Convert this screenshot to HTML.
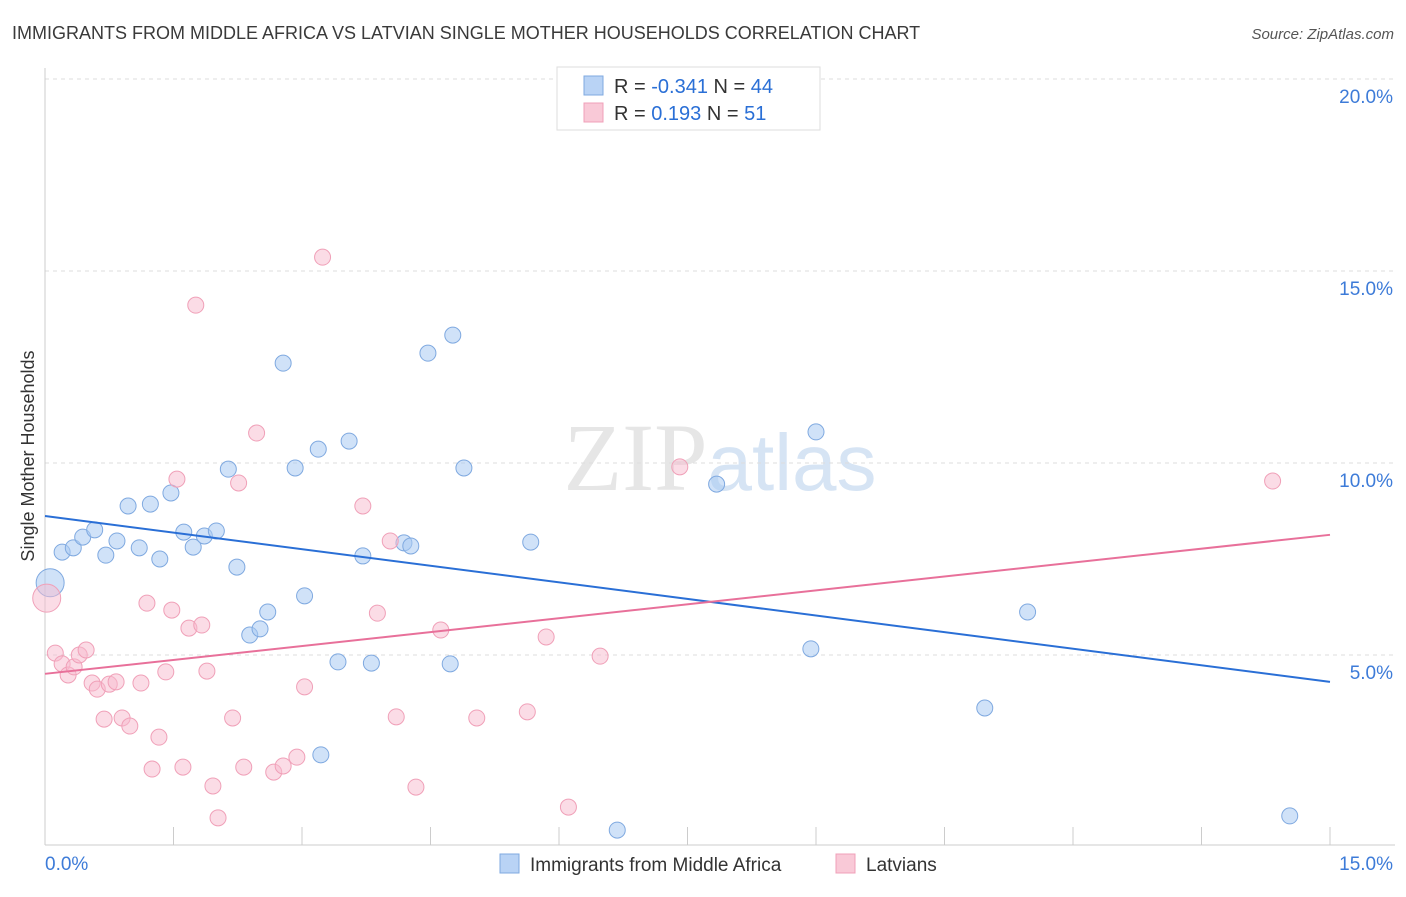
<!DOCTYPE html>
<html><head><meta charset="utf-8"><style>
body{margin:0;background:#fff;font-family:"Liberation Sans",sans-serif;}
</style></head><body>
<svg width="1406" height="892" xmlns="http://www.w3.org/2000/svg" font-family="Liberation Sans, sans-serif">
<text x="12" y="39" font-size="18" fill="#3a3a3a">IMMIGRANTS FROM MIDDLE AFRICA VS LATVIAN SINGLE MOTHER HOUSEHOLDS CORRELATION CHART</text>
<text x="1394" y="39" font-size="15" fill="#555" text-anchor="end" font-style="italic">Source: ZipAtlas.com</text>
<text x="720" y="490" font-size="96" fill="#e6e6e6" text-anchor="middle" font-family="Liberation Serif, serif">ZIP<tspan fill="#d6e4f4" font-family="Liberation Sans, sans-serif" font-size="80">atlas</tspan></text>
<g id="grid"></g>
<g id="axes"></g>
<g id="marks"></g>
<text transform="translate(34,456) rotate(-90)" font-size="18" fill="#333" text-anchor="middle">Single Mother Households</text>
<g>
<rect x="557" y="67" width="263" height="63" fill="#fff" stroke="#ddd"/>
<rect x="584" y="76" width="19" height="19" fill="#b9d3f5" stroke="#7fa9e0"/>
<rect x="584" y="103" width="19" height="19" fill="#f9c9d7" stroke="#f0a0b8"/>
<text x="614" y="93" font-size="20" fill="#333">R = <tspan fill="#2a6fd6">-0.341</tspan>   N = <tspan fill="#2a6fd6">44</tspan></text>
<text x="614" y="120" font-size="20" fill="#333">R =   <tspan fill="#2a6fd6">0.193</tspan>   N =  <tspan fill="#2a6fd6">51</tspan></text>
</g>
<g>
<rect x="500" y="854" width="19" height="19" fill="#b9d3f5" stroke="#7fa9e0"/>
<text x="530" y="871" font-size="19" fill="#333">Immigrants from Middle Africa</text>
<rect x="836" y="854" width="19" height="19" fill="#f9c9d7" stroke="#f0a0b8"/>
<text x="866" y="871" font-size="19" fill="#333">Latvians</text>
</g>
</svg>
<script>
const blueX=[0.06,0.20,0.33,0.44,0.58,0.71,0.84,0.97,1.10,1.23,1.34,1.47,1.62,1.73,1.86,2.00,2.14,2.24,2.39,2.51,2.60,2.78,2.92,3.03,3.19,3.22,3.42,3.55,3.71,3.81,4.19,4.27,4.47,4.73,4.76,4.89,5.67,6.68,7.84,8.94,9.00,10.97,11.47,14.53];
const blueY=[6.88,7.68,7.79,8.07,8.26,7.60,7.97,8.88,7.79,8.93,7.50,9.22,8.20,7.81,8.10,8.23,9.84,7.29,5.52,5.68,6.12,12.60,9.87,6.54,10.36,2.40,4.82,10.57,7.58,4.79,7.92,7.84,12.86,4.77,13.33,9.87,7.94,0.44,9.45,5.16,10.81,3.62,6.12,0.81];
const pinkX=[0.02,0.12,0.20,0.27,0.34,0.40,0.48,0.55,0.61,0.69,0.75,0.83,0.90,0.99,1.12,1.19,1.25,1.33,1.41,1.48,1.54,1.61,1.68,1.76,1.83,1.89,1.96,2.02,2.19,2.26,2.32,2.47,2.67,2.78,2.94,3.03,3.24,3.71,3.88,4.03,4.10,4.33,4.62,5.04,5.63,5.85,6.11,6.48,7.41,14.33];
const pinkY=[6.48,5.05,4.77,4.48,4.69,5.00,5.13,4.27,4.11,3.33,4.24,4.30,3.36,3.15,4.27,6.35,2.03,2.86,4.56,6.17,9.58,2.08,5.70,14.11,5.78,4.58,1.59,0.76,3.36,9.48,2.08,10.78,1.95,2.11,2.34,4.17,15.36,8.88,6.09,7.97,3.39,1.56,5.65,3.36,3.52,5.47,1.04,4.97,9.90,9.53];
const blueTrend=[8.62,4.30];
const pinkTrend=[4.51,8.13];
const yTicks=[5,10,15,20];
const yTickLabels=["5.0%","10.0%","15.0%","20.0%"];
const xTickLabels=["0.0%","15.0%"];
const NS="http://www.w3.org/2000/svg";
const X=v=>45+v/15*1285, Y=v=>847-v*38.4;
function mk(p,t,a){const e=document.createElementNS(NS,t);for(const k in a)e.setAttribute(k,a[k]);document.getElementById(p).appendChild(e);return e;}
yTicks.forEach((t,i)=>{
 const g=mk('grid','line',{x1:45,x2:1395,y1:Y(t),y2:Y(t),stroke:'#ddd','stroke-dasharray':'4,4'});
 
 
 const l=mk('grid','text',{x:1393,y:Y(t)+24,'font-size':19,fill:'#3d7bd8','text-anchor':'end'});
 l.textContent=yTickLabels[i];
 
 
});
const ax=mk('axes','line',{x1:45,x2:45,y1:68,y2:845,stroke:'#ccc'});


const bx=mk('axes','line',{x1:45,x2:1395,y1:845,y2:845,stroke:'#ccc'});


for(let i=0;i<=10;i++){const t=mk('axes','line',{x1:X(i*1.5),x2:X(i*1.5),y1:827,y2:845,stroke:'#ccc'});
 
 }
[[0,45,'start'],[1,1393,'end']].forEach(([i,x,a])=>{const l=mk('axes','text',{x:x,y:870,'font-size':19,fill:'#3d7bd8','text-anchor':a});l.textContent=xTickLabels[i];
 
 });
function pts(xs,ys,fill,stroke,name){xs.forEach((v,i)=>{const c=mk('marks','circle',{cx:X(v),cy:Y(ys[i]),r:i==0?14:8,fill:fill,stroke:stroke,'stroke-width':1});
 
 });}
pts(blueX,blueY,'rgba(170,202,242,0.55)','#7fa9e0','blue-point');
pts(pinkX,pinkY,'rgba(248,185,205,0.5)','#f0a0b8','pink-point');
const bl=mk('marks','line',{x1:X(0),y1:Y(blueTrend[0]),x2:X(15),y2:Y(blueTrend[1]),stroke:'#2a6fd6','stroke-width':2});


const pl=mk('marks','line',{x1:X(0),y1:Y(pinkTrend[0]),x2:X(15),y2:Y(pinkTrend[1]),stroke:'#e8709a','stroke-width':2});


</script>
</body></html>
